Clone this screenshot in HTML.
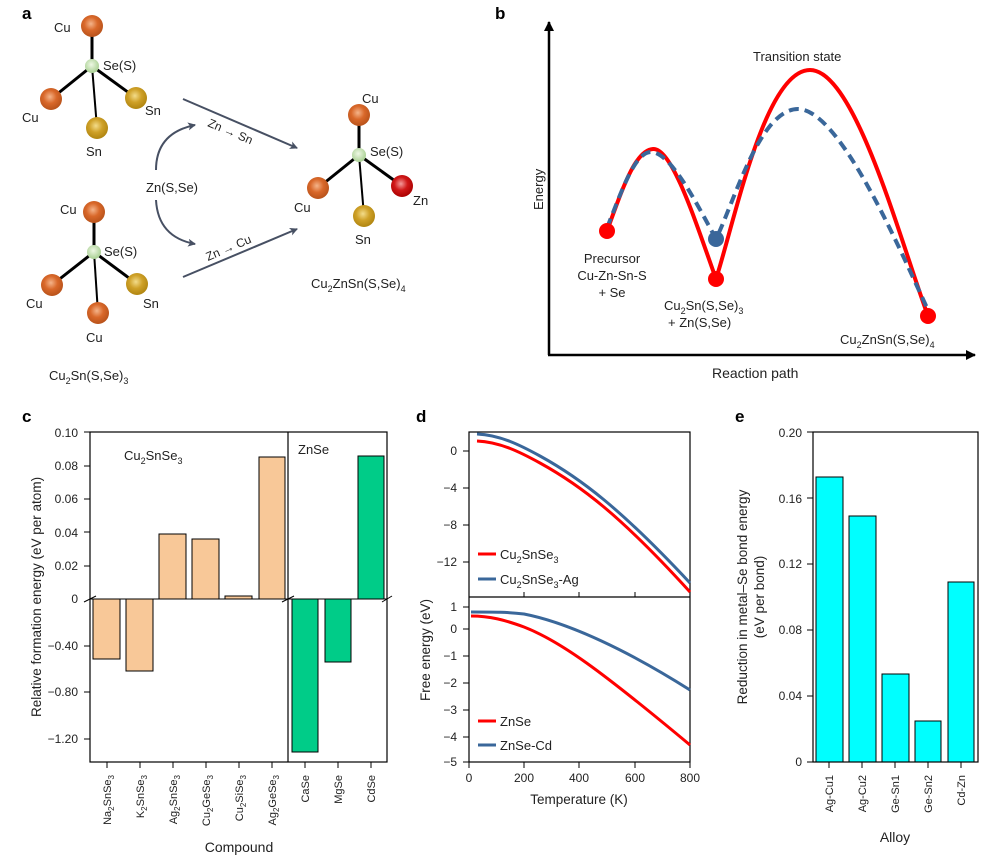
<!DOCTYPE html>
<html><head><meta charset="utf-8"><style>
body{margin:0;background:#fff;}
svg{display:block;font-family:"Liberation Sans",sans-serif;fill:#222;}
</style></head><body>
<svg width="993" height="862" viewBox="0 0 993 862" xmlns="http://www.w3.org/2000/svg">
<defs>
<radialGradient id="cu" cx="45%" cy="40%" r="60%"><stop offset="0" stop-color="#f4b48a"/><stop offset="0.5" stop-color="#d9682a"/><stop offset="1" stop-color="#b8521a"/></radialGradient>
<radialGradient id="sn" cx="45%" cy="40%" r="60%"><stop offset="0" stop-color="#f3dc8a"/><stop offset="0.5" stop-color="#cfa128"/><stop offset="1" stop-color="#b08510"/></radialGradient>
<radialGradient id="zn" cx="45%" cy="40%" r="60%"><stop offset="0" stop-color="#f49a9a"/><stop offset="0.5" stop-color="#d01818"/><stop offset="1" stop-color="#a00"/></radialGradient>
<radialGradient id="se" cx="45%" cy="40%" r="60%"><stop offset="0" stop-color="#eef8e4"/><stop offset="1" stop-color="#a8cf92"/></radialGradient>
<marker id="ah" markerWidth="8" markerHeight="8" refX="7" refY="4" orient="auto" markerUnits="userSpaceOnUse"><path d="M0,0 L8,4 L0,8 L2,4z" fill="#475063"/></marker>
<marker id="ak" markerWidth="10" markerHeight="10" refX="9" refY="5" orient="auto" markerUnits="userSpaceOnUse"><path d="M0,0 L10,5 L0,10z" fill="#000"/></marker>
</defs>

<!-- Panel a -->
<text x="22" y="19" font-size="17" font-weight="bold" fill="#000">a</text>
<g stroke="#000" stroke-width="3">
<line x1="92" y1="66" x2="92" y2="26"/><line x1="92" y1="66" x2="51" y2="99"/><line x1="92" y1="66" x2="136" y2="98"/><line x1="92" y1="66" x2="97" y2="128" stroke-width="2"/>
<line x1="94" y1="252" x2="94" y2="212"/><line x1="94" y1="252" x2="52" y2="285"/><line x1="94" y1="252" x2="137" y2="284"/><line x1="94" y1="252" x2="98" y2="313" stroke-width="2"/>
<line x1="359" y1="155" x2="359" y2="115"/><line x1="359" y1="155" x2="318" y2="188"/><line x1="359" y1="155" x2="402" y2="186"/><line x1="359" y1="155" x2="364" y2="216" stroke-width="2"/>
</g>
<circle cx="92" cy="26" r="11" fill="url(#cu)"/><circle cx="51" cy="99" r="11" fill="url(#cu)"/><circle cx="136" cy="98" r="11" fill="url(#sn)"/><circle cx="97" cy="128" r="11" fill="url(#sn)"/><circle cx="92" cy="66" r="7" fill="url(#se)"/>
<circle cx="94" cy="212" r="11" fill="url(#cu)"/><circle cx="52" cy="285" r="11" fill="url(#cu)"/><circle cx="137" cy="284" r="11" fill="url(#sn)"/><circle cx="98" cy="313" r="11" fill="url(#cu)"/><circle cx="94" cy="252" r="7" fill="url(#se)"/>
<circle cx="359" cy="115" r="11" fill="url(#cu)"/><circle cx="318" cy="188" r="11" fill="url(#cu)"/><circle cx="402" cy="186" r="11" fill="url(#zn)"/><circle cx="364" cy="216" r="11" fill="url(#sn)"/><circle cx="359" cy="155" r="7" fill="url(#se)"/>
<g font-size="13">
<text x="54" y="32">Cu</text><text x="103" y="70">Se(S)</text><text x="22" y="122">Cu</text><text x="145" y="115">Sn</text><text x="86" y="156">Sn</text>
<text x="60" y="214">Cu</text><text x="104" y="256">Se(S)</text><text x="26" y="308">Cu</text><text x="143" y="308">Sn</text><text x="86" y="342">Cu</text>
<text x="49" y="380">Cu<tspan font-size="9" dy="4">2</tspan><tspan dy="-4">Sn(S,Se)</tspan><tspan font-size="9" dy="4">3</tspan></text>
<text x="362" y="103">Cu</text><text x="370" y="156">Se(S)</text><text x="294" y="212">Cu</text><text x="413" y="205">Zn</text><text x="355" y="244">Sn</text>
<text x="311" y="288">Cu<tspan font-size="9" dy="4">2</tspan><tspan dy="-4">ZnSn(S,Se)</tspan><tspan font-size="9" dy="4">4</tspan></text>
<text x="146" y="192">Zn(S,Se)</text>
<text transform="translate(207,126) rotate(23)" font-size="12">Zn → Sn</text>
<text transform="translate(208,261) rotate(-23)" font-size="12">Zn → Cu</text>
</g>
<g stroke="#475063" stroke-width="2" fill="none">
<line x1="183" y1="99" x2="297" y2="148" marker-end="url(#ah)"/>
<line x1="183" y1="277" x2="297" y2="229" marker-end="url(#ah)"/>
<path d="M156,170 Q156,133 195,125" marker-end="url(#ah)"/>
<path d="M156,200 Q158,237 195,244" marker-end="url(#ah)"/>
</g>

<!-- Panel b -->
<text x="495" y="19" font-size="17" font-weight="bold" fill="#000">b</text>
<line x1="549" y1="355" x2="549" y2="22" stroke="#000" stroke-width="2.5" marker-end="url(#ak)"/>
<line x1="548" y1="355" x2="975" y2="355" stroke="#000" stroke-width="2.5" marker-end="url(#ak)"/>
<text transform="translate(543,210) rotate(-90)" font-size="13">Energy</text>
<text x="712" y="378" font-size="14">Reaction path</text>
<text x="753" y="61" font-size="13">Transition state</text>
<path d="M607,231 C622,190 635,150 653,149 C672,148 695,220 716,279 C735,220 765,70 810,70 C855,70 900,240 928,316" fill="none" stroke="#f00" stroke-width="4"/>
<path d="M607,228 C622,190 635,152 651,152 C670,152 695,200 716,239 C735,200 760,109 798,109 C840,109 900,250 928,310" fill="none" stroke="#3a679a" stroke-width="4" stroke-dasharray="10,6"/>
<circle cx="607" cy="231" r="8" fill="#f00"/><circle cx="716" cy="239" r="8" fill="#3a679a"/><circle cx="716" cy="279" r="8" fill="#f00"/><circle cx="928" cy="316" r="8" fill="#f00"/>
<g font-size="13" text-anchor="middle">
<text x="612" y="263">Precursor</text><text x="612" y="280">Cu-Zn-Sn-S</text><text x="612" y="297">+ Se</text>
</g>
<text x="664" y="310" font-size="13">Cu<tspan font-size="9" dy="4">2</tspan><tspan dy="-4">Sn(S,Se)</tspan><tspan font-size="9" dy="4">3</tspan></text>
<text x="668" y="327" font-size="13">+ Zn(S,Se)</text>
<text x="840" y="344" font-size="13">Cu<tspan font-size="9" dy="4">2</tspan><tspan dy="-4">ZnSn(S,Se)</tspan><tspan font-size="9" dy="4">4</tspan></text>

<!-- Panel c -->
<text x="22" y="422" font-size="17" font-weight="bold" fill="#000">c</text>
<g fill="#f8c898" stroke="#000" stroke-width="1">
<rect x="93" y="599" width="27" height="60"/><rect x="126" y="599" width="27" height="72"/>
<rect x="159" y="534" width="27" height="65"/><rect x="192" y="539" width="27" height="60"/>
<rect x="225" y="596" width="27" height="3"/><rect x="259" y="457" width="26" height="142"/>
</g>
<g fill="#00cc88" stroke="#000" stroke-width="1">
<rect x="292" y="599" width="26" height="153"/><rect x="325" y="599" width="26" height="63"/><rect x="358" y="456" width="26" height="143"/>
</g>
<rect x="90" y="432" width="297" height="330" fill="none" stroke="#000" stroke-width="1.2"/>
<line x1="288" y1="432" x2="288" y2="762" stroke="#000" stroke-width="1.2"/>
<line x1="90" y1="599" x2="387" y2="599" stroke="#000" stroke-width="1"/>
<g stroke="#000" stroke-width="1">
<line x1="84" y1="602" x2="96" y2="596"/><line x1="282" y1="602" x2="294" y2="596"/><line x1="382" y1="602" x2="392" y2="596"/>
<line x1="84" y1="432" x2="90" y2="432"/><line x1="84" y1="466" x2="90" y2="466"/><line x1="84" y1="499" x2="90" y2="499"/><line x1="84" y1="532" x2="90" y2="532"/><line x1="84" y1="566" x2="90" y2="566"/>
<line x1="84" y1="646" x2="90" y2="646"/><line x1="84" y1="692" x2="90" y2="692"/><line x1="84" y1="739" x2="90" y2="739"/>
<line x1="107" y1="762" x2="107" y2="768"/><line x1="140" y1="762" x2="140" y2="768"/><line x1="173" y1="762" x2="173" y2="768"/><line x1="206" y1="762" x2="206" y2="768"/><line x1="239" y1="762" x2="239" y2="768"/><line x1="272" y1="762" x2="272" y2="768"/><line x1="305" y1="762" x2="305" y2="768"/><line x1="338" y1="762" x2="338" y2="768"/><line x1="371" y1="762" x2="371" y2="768"/>
</g>
<g font-size="12" text-anchor="end">
<text x="78" y="437">0.10</text><text x="78" y="470">0.08</text><text x="78" y="503">0.06</text><text x="78" y="537">0.04</text><text x="78" y="570">0.02</text><text x="78" y="603">0</text>
<text x="78" y="650">−0.40</text><text x="78" y="696">−0.80</text><text x="78" y="743">−1.20</text>
</g>
<text transform="translate(41,597) rotate(-90)" font-size="13.5" text-anchor="middle">Relative formation energy (eV per atom)</text>
<text x="124" y="460" font-size="13">Cu<tspan font-size="9" dy="4">2</tspan><tspan dy="-4">SnSe</tspan><tspan font-size="9" dy="4">3</tspan></text>
<text x="298" y="454" font-size="13">ZnSe</text>
<g font-size="11" text-anchor="end">
<text transform="translate(111,775) rotate(-90)">Na<tspan font-size="8" dy="3">2</tspan><tspan dy="-3">SnSe</tspan><tspan font-size="8" dy="3">3</tspan></text>
<text transform="translate(144,775) rotate(-90)">K<tspan font-size="8" dy="3">2</tspan><tspan dy="-3">SnSe</tspan><tspan font-size="8" dy="3">3</tspan></text>
<text transform="translate(177,775) rotate(-90)">Ag<tspan font-size="8" dy="3">2</tspan><tspan dy="-3">SnSe</tspan><tspan font-size="8" dy="3">3</tspan></text>
<text transform="translate(210,775) rotate(-90)">Cu<tspan font-size="8" dy="3">2</tspan><tspan dy="-3">GeSe</tspan><tspan font-size="8" dy="3">3</tspan></text>
<text transform="translate(243,775) rotate(-90)">Cu<tspan font-size="8" dy="3">2</tspan><tspan dy="-3">SiSe</tspan><tspan font-size="8" dy="3">3</tspan></text>
<text transform="translate(276,775) rotate(-90)">Ag<tspan font-size="8" dy="3">2</tspan><tspan dy="-3">GeSe</tspan><tspan font-size="8" dy="3">3</tspan></text>
<text transform="translate(309,775) rotate(-90)">CaSe</text>
<text transform="translate(342,775) rotate(-90)">MgSe</text>
<text transform="translate(375,775) rotate(-90)">CdSe</text>
</g>
<text x="239" y="852" font-size="14" text-anchor="middle">Compound</text>

<!-- Panel d -->
<text x="416" y="422" font-size="17" font-weight="bold" fill="#000">d</text>
<rect x="469" y="432" width="221" height="330" fill="none" stroke="#000" stroke-width="1.2"/>
<line x1="469" y1="597" x2="690" y2="597" stroke="#000" stroke-width="1.2"/>
<g stroke="#000" stroke-width="1">
<line x1="463" y1="451" x2="469" y2="451"/><line x1="463" y1="488" x2="469" y2="488"/><line x1="463" y1="525" x2="469" y2="525"/><line x1="463" y1="562" x2="469" y2="562"/>
<line x1="463" y1="607" x2="469" y2="607"/><line x1="463" y1="629" x2="469" y2="629"/><line x1="463" y1="656" x2="469" y2="656"/><line x1="463" y1="683" x2="469" y2="683"/><line x1="463" y1="710" x2="469" y2="710"/><line x1="463" y1="737" x2="469" y2="737"/><line x1="463" y1="762" x2="469" y2="762"/>
<line x1="524" y1="762" x2="524" y2="768"/><line x1="579" y1="762" x2="579" y2="768"/><line x1="635" y1="762" x2="635" y2="768"/><line x1="690" y1="762" x2="690" y2="768"/><line x1="469" y1="762" x2="469" y2="768"/>
<line x1="524" y1="597" x2="524" y2="592"/><line x1="579" y1="597" x2="579" y2="592"/><line x1="635" y1="597" x2="635" y2="592"/>
</g>
<g font-size="12" text-anchor="end">
<text x="457" y="455">0</text><text x="457" y="492">−4</text><text x="457" y="529">−8</text><text x="457" y="566">−12</text>
<text x="457" y="611">1</text><text x="457" y="633">0</text><text x="457" y="660">−1</text><text x="457" y="687">−2</text><text x="457" y="714">−3</text><text x="457" y="741">−4</text><text x="457" y="766">−5</text>
</g>
<g font-size="12" text-anchor="middle">
<text x="469" y="782">0</text><text x="524" y="782">200</text><text x="579" y="782">400</text><text x="635" y="782">600</text><text x="690" y="782">800</text>
</g>
<text x="579" y="804" font-size="13.5" text-anchor="middle">Temperature (K)</text>
<text transform="translate(430,650) rotate(-90)" font-size="13.5" text-anchor="middle">Free energy (eV)</text>
<g fill="none" stroke-width="3">
<path d="M477,441 C500,442 520,452 540,463 C580,485 620,515 690,592" stroke="#f00"/>
<path d="M477,434 C500,435 520,445 540,456 C580,478 620,508 690,583" stroke="#3a679a"/>
<path d="M471,616 C490,616 505,620 524,627 C560,641 600,670 690,745" stroke="#f00"/>
<path d="M471,612 C495,612 508,612 524,614 C570,623 630,652 690,690" stroke="#3a679a"/>
</g>
<g stroke-width="3"><line x1="478" y1="554" x2="496" y2="554" stroke="#f00"/><line x1="478" y1="579" x2="496" y2="579" stroke="#3a679a"/>
<line x1="478" y1="721" x2="496" y2="721" stroke="#f00"/><line x1="478" y1="745" x2="496" y2="745" stroke="#3a679a"/></g>
<g font-size="13">
<text x="500" y="559">Cu<tspan font-size="9" dy="4">2</tspan><tspan dy="-4">SnSe</tspan><tspan font-size="9" dy="4">3</tspan></text>
<text x="500" y="584">Cu<tspan font-size="9" dy="4">2</tspan><tspan dy="-4">SnSe</tspan><tspan font-size="9" dy="4">3</tspan><tspan dy="-4">-Ag</tspan></text>
<text x="500" y="726">ZnSe</text><text x="500" y="750">ZnSe-Cd</text>
</g>

<!-- Panel e -->
<text x="735" y="422" font-size="17" font-weight="bold" fill="#000">e</text>
<g fill="#00ffff" stroke="#000" stroke-width="1">
<rect x="816" y="477" width="27" height="285"/><rect x="849" y="516" width="27" height="246"/><rect x="882" y="674" width="27" height="88"/><rect x="915" y="721" width="26" height="41"/><rect x="948" y="582" width="26" height="180"/>
</g>
<rect x="813" y="432" width="165" height="330" fill="none" stroke="#000" stroke-width="1.2"/>
<g stroke="#000" stroke-width="1">
<line x1="807" y1="432" x2="813" y2="432"/><line x1="807" y1="498" x2="813" y2="498"/><line x1="807" y1="564" x2="813" y2="564"/><line x1="807" y1="630" x2="813" y2="630"/><line x1="807" y1="696" x2="813" y2="696"/><line x1="807" y1="762" x2="813" y2="762"/>
<line x1="829" y1="762" x2="829" y2="768"/><line x1="862" y1="762" x2="862" y2="768"/><line x1="895" y1="762" x2="895" y2="768"/><line x1="928" y1="762" x2="928" y2="768"/><line x1="961" y1="762" x2="961" y2="768"/>
</g>
<g font-size="12" text-anchor="end">
<text x="802" y="437">0.20</text><text x="802" y="503">0.16</text><text x="802" y="568">0.12</text><text x="802" y="634">0.08</text><text x="802" y="700">0.04</text><text x="802" y="766">0</text>
</g>
<g font-size="11" text-anchor="end">
<text transform="translate(833,775) rotate(-90)">Ag-Cu1</text><text transform="translate(866,775) rotate(-90)">Ag-Cu2</text><text transform="translate(899,775) rotate(-90)">Ge-Sn1</text><text transform="translate(932,775) rotate(-90)">Ge-Sn2</text><text transform="translate(965,775) rotate(-90)">Cd-Zn</text>
</g>
<text x="895" y="842" font-size="14" text-anchor="middle">Alloy</text>
<text transform="translate(747,597) rotate(-90)" font-size="13.5" text-anchor="middle">Reduction in metal–Se bond energy</text>
<text transform="translate(764,597) rotate(-90)" font-size="13.5" text-anchor="middle">(eV per bond)</text>
</svg>
</body></html>
